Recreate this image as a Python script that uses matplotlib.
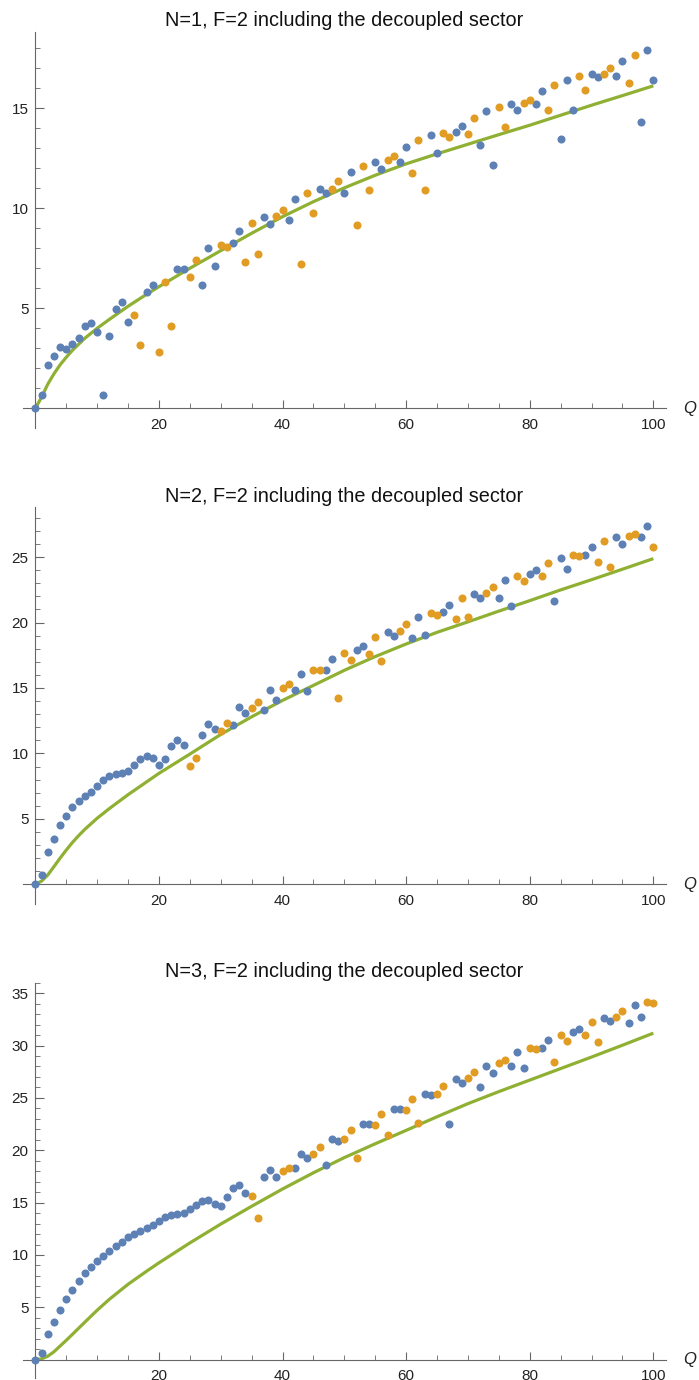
import matplotlib
matplotlib.use("Agg")
import matplotlib.pyplot as plt
import numpy as np

plt.rcParams['font.family'] = ['Liberation Sans', 'DejaVu Sans']

BLUE = '#5E81B5'
ORANGE = '#E19C24'
GREEN = '#8FB032'

# Q = 0..100, one point per Q
q_vals = list(range(101))

y_n1 = [0.00, 0.67, 2.17, 2.62, 3.08, 2.97, 3.22, 3.50, 4.12, 4.28,
        3.82, 0.67, 3.63, 4.97, 5.33, 4.32, 4.67, 3.17, 5.83, 6.17,
        2.82, 6.30, 4.12, 6.98, 6.98, 6.55, 7.40, 6.18, 8.00, 7.10,
        8.15, 8.07, 8.27, 8.87, 7.32, 9.25, 7.73, 9.55, 9.23, 9.60,
        9.93, 9.40, 10.45, 7.20, 10.77, 9.75, 10.97, 10.77, 10.98, 11.37,
        10.75, 11.82, 9.17, 12.13, 10.93, 12.33, 11.95, 12.40, 12.60, 12.30,
        13.05, 11.75, 13.40, 10.93, 13.65, 12.77, 13.78, 13.57, 13.83, 14.12,
        13.70, 14.52, 13.15, 14.85, 12.18, 15.07, 14.08, 15.22, 14.90, 15.28,
        15.43, 15.22, 15.85, 14.90, 16.17, 13.47, 16.42, 14.90, 16.60, 15.92,
        16.73, 16.55, 16.73, 17.02, 16.62, 17.37, 16.25, 17.67, 14.32, 17.90,
        16.40]
orange_n1 = [16, 17, 20, 21, 22, 25, 26, 30, 31, 34, 35, 36, 39, 40, 43, 44, 45,
             48, 49, 52, 53, 54, 57, 58, 61, 62, 63, 66, 67, 70, 71, 75, 76,
             79, 80, 83, 84, 88, 89, 92, 93, 96, 97]

y_n2 = [0.00, 0.69, 2.50, 3.46, 4.51, 5.25, 5.91, 6.34, 6.77, 7.08,
        7.54, 7.95, 8.30, 8.45, 8.48, 8.66, 9.12, 9.60, 9.80, 9.63,
        9.14, 9.60, 10.59, 11.05, 10.67, 9.04, 9.63, 11.38, 12.27, 11.87,
        11.74, 12.33, 12.17, 13.52, 13.06, 13.47, 13.93, 13.32, 14.82, 14.11,
        14.97, 15.28, 14.82, 16.07, 14.74, 16.37, 16.35, 16.40, 17.21, 14.26,
        17.70, 17.14, 17.90, 18.23, 17.60, 18.87, 17.06, 19.25, 19.00, 19.35,
        19.86, 18.82, 20.40, 19.05, 20.73, 20.58, 20.80, 21.36, 20.24, 21.86,
        20.45, 22.18, 21.90, 22.23, 22.71, 21.87, 23.25, 21.26, 23.58, 23.15,
        23.71, 23.99, 23.53, 24.55, 21.67, 24.96, 24.06, 25.16, 25.08, 25.13,
        25.77, 24.65, 26.20, 24.27, 26.51, 26.00, 26.64, 26.79, 26.56, 27.37,
        25.77]
orange_n2 = [25, 26, 30, 31, 35, 36, 40, 41, 45, 46, 49, 50, 51, 54, 55, 56,
             59, 60, 64, 65, 68, 69, 70, 73, 74, 78, 79, 82, 83, 87, 88, 91,
             92, 93, 96, 97, 100]

y_n3 = [0.00, 0.67, 2.48, 3.60, 4.77, 5.76, 6.68, 7.51, 8.24, 8.85,
        9.39, 9.90, 10.34, 10.85, 11.26, 11.68, 12.00, 12.28, 12.57, 12.89,
        13.27, 13.59, 13.81, 13.94, 14.00, 14.35, 14.79, 15.18, 15.24, 14.86,
        14.64, 15.56, 16.35, 16.64, 15.91, 15.65, 13.55, 17.47, 18.10, 17.44,
        17.98, 18.33, 18.29, 19.63, 19.22, 19.60, 20.30, 18.55, 21.09, 20.90,
        21.03, 21.92, 19.25, 22.53, 22.53, 22.43, 23.42, 21.44, 23.96, 23.96,
        23.89, 24.85, 22.56, 25.36, 25.23, 25.39, 26.18, 22.53, 26.76, 26.41,
        26.88, 27.46, 26.03, 28.09, 27.36, 28.32, 28.63, 28.09, 29.37, 27.84,
        29.75, 29.65, 29.78, 30.51, 28.38, 31.05, 30.42, 31.31, 31.56, 31.02,
        32.23, 30.29, 32.64, 32.36, 32.74, 33.25, 32.17, 33.85, 32.68, 34.17,
        34.08]
orange_n3 = [35, 36, 40, 41, 45, 46, 50, 51, 52, 55, 56, 57, 60, 61, 62, 65,
             66, 70, 71, 75, 76, 80, 81, 84, 85, 86, 89, 90, 91, 94, 95, 99, 100]

# green prediction curves
curve_q1 = [0, 1, 2, 3, 4, 5, 6, 8, 10, 12, 15, 18, 20, 25, 30, 35, 40, 45,
            50, 55, 60, 65, 70, 75, 80, 85, 90, 95, 100]
curve_n1 = [0.0, 0.55, 1.2, 1.72, 2.17, 2.55, 2.9, 3.5, 4.0, 4.45, 5.1, 5.7,
            6.08, 7.0, 7.88, 8.75, 9.58, 10.33, 11.02, 11.65, 12.22, 12.72,
            13.2, 13.68, 14.15, 14.65, 15.15, 15.63, 16.12]
curve_q2 = [0, 1, 2, 3, 4, 5, 6, 7, 8, 10, 12, 15, 20, 25, 30, 35, 40, 45, 50,
            55, 60, 65, 70, 75, 80, 85, 90, 95, 100]
curve_n2 = [0.0, 0.25, 0.71, 1.35, 2.0, 2.62, 3.2, 3.72, 4.2, 5.05, 5.8, 6.85,
            8.48, 9.95, 11.45, 12.8, 14.05, 15.2, 16.35, 17.4, 18.36, 19.25,
            20.05, 20.87, 21.67, 22.49, 23.27, 24.07, 24.88]
curve_q3 = [0, 1, 2, 3, 4, 5, 6, 7, 8, 10, 12, 15, 18, 20, 25, 30, 35, 40, 45,
            50, 55, 60, 65, 70, 75, 80, 85, 90, 95, 100]
curve_n3 = [0.0, 0.08, 0.33, 0.75, 1.3, 1.85, 2.42, 3.0, 3.58, 4.72, 5.78,
            7.2, 8.45, 9.25, 11.15, 12.95, 14.65, 16.3, 17.85, 19.3, 20.62,
            21.9, 23.2, 24.45, 25.6, 26.7, 27.8, 28.9, 30.03, 31.18]

titles = ['N=1, F=2 including the decoupled sector',
          'N=2, F=2 including the decoupled sector',
          'N=3, F=2 including the decoupled sector']

panels = [
    (titles[0], y_n1, orange_n1, curve_q1, curve_n1, (-0.98, 18.83),
     [0.0325, 0.6899, 0.9203, 0.2872]),
    (titles[1], y_n2, orange_n2, curve_q2, curve_n2, (-1.5, 28.8),
     [0.0325, 0.3449, 0.9203, 0.2875]),
    (titles[2], y_n3, orange_n3, curve_q3, curve_n3, (-1.78, 36.0),
     [0.0325, 0.0012, 0.9203, 0.2867]),
]

fig = plt.figure(figsize=(6.99, 13.8), dpi=100)

for title, yv, oq, cq, cv, ylim, rect in panels:
    ax = fig.add_axes(rect)
    qb = [q for q in q_vals if q not in oq]
    yb = [yv[q] for q in qb]
    yo = [yv[q] for q in oq]

    ax.plot(cq, cv, '-', color=GREEN, lw=2.3, zorder=2,
            solid_joinstyle='round', solid_capstyle='butt')
    ax.plot(qb, yb, 'o', color=BLUE, ms=5.8, mew=0, zorder=3, clip_on=False)
    ax.plot(oq, yo, 'o', color=ORANGE, ms=5.8, mew=0, zorder=3, clip_on=False)

    ax.set_xlim(-2.04, 102.05)
    ax.set_ylim(*ylim)

    for s in ['top', 'right']:
        ax.spines[s].set_visible(False)
    ax.spines['left'].set_position(('data', 0))
    ax.spines['bottom'].set_position(('data', 0))
    for s in ['left', 'bottom']:
        ax.spines[s].set_color('#666666')
        ax.spines[s].set_linewidth(0.8)

    top = int(ylim[1])
    ax.set_xticks([20, 40, 60, 80, 100])
    ax.set_xticks([v for v in range(5, 100, 5) if v % 20], minor=True)
    ax.set_yticks(list(range(5, top + 1, 5)))
    ax.set_yticks([v for v in range(1, top + 1) if v % 5], minor=True)

    ax.tick_params(axis='both', which='both', direction='in', colors='#666666',
                   labelcolor='#222222', labelsize=11)
    ax.tick_params(axis='x', which='major', length=6, width=0.8, pad=7)
    ax.tick_params(axis='x', which='minor', length=3.5, width=0.6)
    ax.tick_params(axis='y', which='major', length=6.5, width=0.8, pad=5)
    ax.tick_params(axis='y', which='minor', length=3.5, width=0.6)

    ax.text(1.036, 0, 'Q', transform=ax.get_yaxis_transform(), ha='center',
            va='center', fontsize=12, style='italic', color='#222222')
    ax.set_title(title, fontsize=14.3, pad=4, color='#111111')

fig.savefig('out.png', dpi=100)
